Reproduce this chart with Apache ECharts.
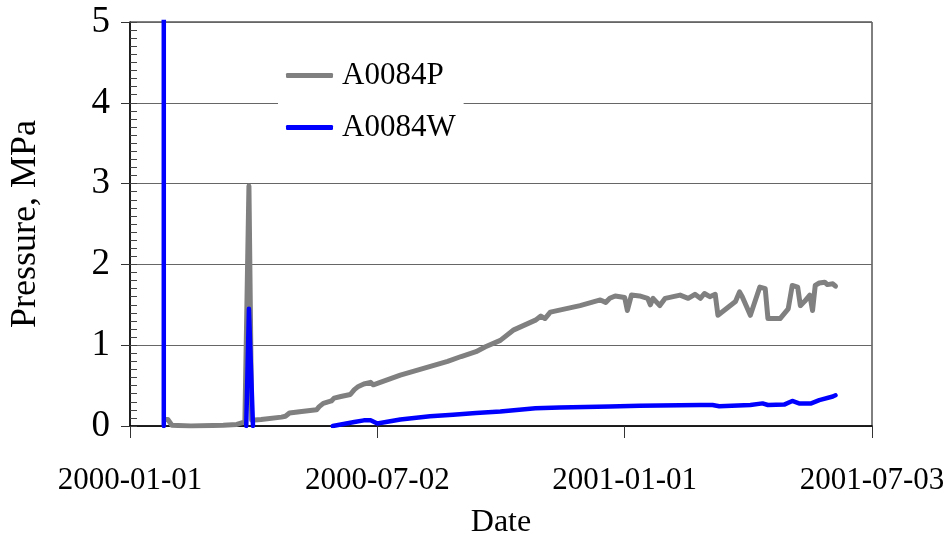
<!DOCTYPE html>
<html>
<head>
<meta charset="utf-8">
<script src="https://cdn.jsdelivr.net/npm/echarts@6/dist/echarts.min.js"></script>
<style>
  html, body { margin: 0; padding: 0; background: #fff; }
  #chart { width: 952px; height: 544px; }
</style>
</head>
<body>
<div id="chart"></div>
<script>
// Axis ticks (days counted from the first tick date)
const tickDates = ["2000-01-01", "2000-07-02", "2001-01-01", "2001-07-03"];
const seriesNames = ["A0084P", "A0084W"];

// A0084P pressure record
const pressureDates = [
  "2000-01-27", "2000-01-29", "2000-02-01", "2000-02-15", "2000-03-10", "2000-03-20",
  "2000-03-26", "2000-03-27", "2000-03-29", "2000-03-31", "2000-04-07", "2000-04-22",
  "2000-04-25", "2000-04-28", "2000-05-07", "2000-05-18", "2000-05-20", "2000-05-23",
  "2000-05-29", "2000-05-31", "2000-06-05", "2000-06-12", "2000-06-15", "2000-06-18",
  "2000-06-22", "2000-06-27", "2000-06-29", "2000-07-19", "2000-08-23", "2000-09-02",
  "2000-09-13", "2000-09-20", "2000-10-01", "2000-10-11", "2000-10-27", "2000-10-31",
  "2000-11-03", "2000-11-07", "2000-11-29", "2000-12-14", "2000-12-18", "2000-12-21",
  "2000-12-25", "2001-01-01", "2001-01-03", "2001-01-06", "2001-01-12", "2001-01-18",
  "2001-01-20", "2001-01-22", "2001-01-27", "2001-01-31", "2001-02-11", "2001-02-17",
  "2001-02-22", "2001-02-26", "2001-03-01", "2001-03-05", "2001-03-09", "2001-03-11",
  "2001-03-24", "2001-03-27", "2001-03-29", "2001-04-04", "2001-04-11", "2001-04-15",
  "2001-04-17", "2001-04-26", "2001-05-02", "2001-05-05", "2001-05-09", "2001-05-11",
  "2001-05-14", "2001-05-18", "2001-05-20", "2001-05-22", "2001-05-25", "2001-05-29",
  "2001-05-31", "2001-06-04", "2001-06-06"
];
const pressureValues = [
  0.08, 0.08, 0.01, 0.00, 0.01, 0.02,
  0.05, 0.06, 2.97, 0.07, 0.08, 0.11,
  0.12, 0.16, 0.18, 0.20, 0.24, 0.28,
  0.31, 0.345, 0.365, 0.39, 0.45, 0.49,
  0.52, 0.54, 0.51, 0.63, 0.80, 0.86,
  0.92, 0.98, 1.06, 1.19, 1.31, 1.36,
  1.33, 1.41, 1.49, 1.56, 1.53, 1.58,
  1.61, 1.59, 1.43, 1.62, 1.61, 1.58,
  1.50, 1.58, 1.49, 1.58, 1.62, 1.58,
  1.63, 1.58, 1.64, 1.60, 1.63, 1.37,
  1.54, 1.66, 1.60, 1.37, 1.72, 1.70,
  1.33, 1.33, 1.45, 1.74, 1.72, 1.49,
  1.54, 1.62, 1.43, 1.74, 1.77, 1.78,
  1.75, 1.76, 1.73
];

// A0084W pressure record (null = no reading)
const waterDates = [
  "2000-01-26", "2000-01-26", "2000-02-15", "2000-03-27", "2000-03-29", "2000-04-01",
  "2000-04-20", "2000-05-30", "2000-06-15", "2000-06-22", "2000-06-27", "2000-07-02",
  "2000-07-19", "2000-08-10", "2000-08-27", "2000-09-13", "2000-10-01", "2000-10-27",
  "2000-11-14", "2000-12-21", "2001-01-12", "2001-02-26", "2001-03-07", "2001-03-12",
  "2001-04-04", "2001-04-13", "2001-04-17", "2001-04-29", "2001-05-05", "2001-05-10",
  "2001-05-19", "2001-05-25", "2001-06-04", "2001-06-06"
];
const waterValues = [
  6.0, 0.0, null, 0.0, 1.45, 0.0,
  null, 0.0, 0.05, 0.07, 0.07, 0.03,
  0.08, 0.12, 0.14, 0.16, 0.18, 0.22,
  0.23, 0.24, 0.25, 0.26, 0.26, 0.245,
  0.26, 0.28, 0.26, 0.265, 0.31, 0.28,
  0.28, 0.32, 0.365, 0.38
];

const DAY = 86400000;
function parseDay(s) {
  const [y, m, d] = s.split("-").map(Number);
  return Date.UTC(y, m - 1, d);
}
const origin = parseDay(tickDates[0]);
const toOffset = s => Math.round((parseDay(s) - origin) / DAY);
function offsetToLabel(v) {
  const dt = new Date(origin + v * DAY);
  const p = n => String(n).padStart(2, "0");
  return dt.getUTCFullYear() + "-" + p(dt.getUTCMonth() + 1) + "-" + p(dt.getUTCDate());
}
const tickOffsets = tickDates.map(toOffset);
const tickStep = tickOffsets[1] - tickOffsets[0];

const pressureData = pressureDates.map((d, i) => [toOffset(d), pressureValues[i]]);
const waterData = waterDates.map((d, i) => [toOffset(d), waterValues[i]]);

const FONT = "'Liberation Serif', 'Times New Roman', serif";
const GRAY = "#808080";
const BLUE = "#0000ff";

const chart = echarts.init(document.getElementById("chart"), null, { renderer: "canvas" });
chart.setOption({
  animation: false,
  backgroundColor: "#ffffff",
  grid: {
    left: 128, right: 80, top: 22, bottom: 116,
    show: true, borderColor: "#000", borderWidth: 1, backgroundColor: "transparent"
  },
  legend: {
    data: [
      { name: seriesNames[0], icon: "roundRect", itemStyle: { color: GRAY } },
      { name: seriesNames[1], icon: "roundRect", itemStyle: { color: BLUE } }
    ],
    orient: "vertical",
    left: 278, top: 50,
    backgroundColor: "#ffffff",
    padding: [10, 8, 10, 8],
    itemWidth: 47, itemHeight: 5,
    itemGap: 21,
    textStyle: { fontFamily: FONT, fontSize: 31, color: "#000", padding: [0, 0, 0, 4] }
  },
  xAxis: {
    type: "value",
    min: tickOffsets[0],
    max: tickOffsets[tickOffsets.length - 1],
    interval: tickStep,
    name: "Date",
    nameLocation: "middle",
    nameGap: 81,
    nameTextStyle: { fontFamily: FONT, fontSize: 32, color: "#000" },
    axisLine: { lineStyle: { color: "#000", width: 1.5 } },
    axisTick: { show: true, inside: false, length: 12, lineStyle: { color: "#333", width: 1 } },
    axisLabel: {
      fontFamily: FONT, fontSize: 31, color: "#000", margin: 39,
      formatter: v => offsetToLabel(v)
    },
    splitLine: { show: false }
  },
  yAxis: [
    {
      type: "value",
      min: 0, max: 5, interval: 1,
      name: "Pressure, MPa",
      nameLocation: "middle",
      nameGap: 86,
      nameTextStyle: { fontFamily: FONT, fontSize: 36, color: "#000" },
      axisLine: { show: true, lineStyle: { color: "#000", width: 1.5 } },
      axisTick: { show: true, inside: false, length: 9, lineStyle: { color: "#333", width: 1 } },
      axisLabel: { fontFamily: FONT, fontSize: 37, color: "#000", margin: 20 },
      splitLine: { show: true, lineStyle: { color: "#666", width: 1 } }
    },
    {
      // inner minor ticks every 0.1 MPa
      type: "value",
      position: "left",
      min: 0, max: 5, interval: 0.1,
      axisLine: { show: false },
      axisTick: { show: true, inside: true, length: 7, lineStyle: { color: "#444", width: 1 } },
      axisLabel: { show: false },
      splitLine: { show: false }
    }
  ],
  series: [
    {
      name: seriesNames[0],
      type: "line",
      data: pressureData,
      showSymbol: false,
      symbol: "none",
      clip: true,
      lineStyle: { color: GRAY, width: 5, cap: "round", join: "round" },
      itemStyle: { color: GRAY },
      z: 2
    },
    {
      name: seriesNames[1],
      type: "line",
      data: waterData,
      showSymbol: false,
      symbol: "none",
      clip: true,
      connectNulls: false,
      lineStyle: { color: BLUE, width: 4.5, cap: "round", join: "round" },
      itemStyle: { color: BLUE },
      z: 3
    }
  ]
});
</script>
</body>
</html>
